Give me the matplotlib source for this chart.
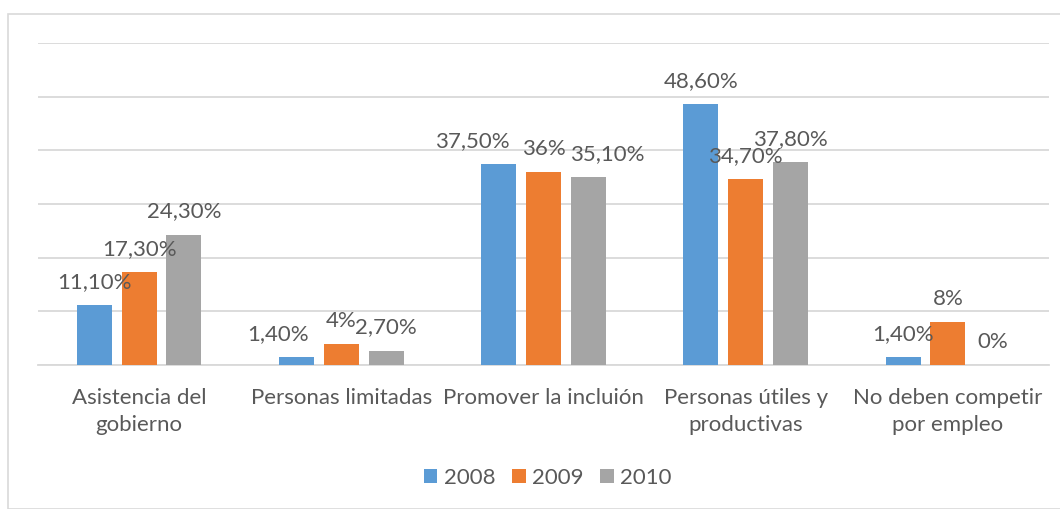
import matplotlib
matplotlib.use("Agg")
import matplotlib.pyplot as plt
from matplotlib.patches import Rectangle
import numpy as np

categories = [
    "Asistencia del\ngobierno",
    "Personas limitadas",
    "Promover la incluión",
    "Personas útiles y\nproductivas",
    "No deben competir\npor empleo",
]
years = ["2008", "2009", "2010"]
values_2008 = [11.1, 1.4, 37.5, 48.6, 1.4]
values_2009 = [17.3, 4.0, 36.0, 34.7, 8.0]
values_2010 = [24.3, 2.7, 35.1, 37.8, 0.0]
labels_2008 = ["11,10%", "1,40%", "37,50%", "48,60%", "1,40%"]
labels_2009 = ["17,30%", "4%", "36%", "34,70%", "8%"]
labels_2010 = ["24,30%", "2,70%", "35,10%", "37,80%", "0%"]

colors = ["#5B9BD5", "#ED7D31", "#A5A5A5"]
text_color = "#595959"
grid_color = "#D9D9D9"
fs = 16

# horizontal nudges (pixels) for labels that would collide, as in the original
label_shift = {(0, 1): -18, (0, 2): -26, (2, 2): 19}

plt.rcParams["font.family"] = ["Lato", "DejaVu Sans"]

fig = plt.figure(figsize=(10.6, 5.09), dpi=100)
W, H = 1060, 509

# chart border
fig.patches.append(Rectangle((8 / W, 0), 1.1, 1 - 14 / H, transform=fig.transFigure,
                             fill=False, edgecolor=grid_color, linewidth=1.2))

ax = fig.add_axes([38 / W, 1 - 365 / H, (1049 - 38) / W, (365 - 43) / H])

x = np.arange(len(categories))
bar_w = 0.173
step = 0.222
series = [
    (values_2008, labels_2008),
    (values_2009, labels_2009),
    (values_2010, labels_2010),
]
for i, (vals, labs) in enumerate(series):
    pos = x + (i - 1) * step
    ax.bar(pos, vals, width=bar_w, color=colors[i], label=years[i], zorder=3)
    for j, (px, v, lab) in enumerate(zip(pos, vals, labs)):
        dx = label_shift.get((i, j), 0)
        ax.annotate(lab, (px, v), xytext=(dx, 23), textcoords="offset pixels",
                    ha="center", va="center", fontsize=fs, color=text_color, zorder=4)

ax.set_xlim(-0.5, len(categories) - 0.5)
ax.set_ylim(0, 60)
ax.set_yticks(np.arange(0, 61, 10))
ax.yaxis.grid(True, color=grid_color, linewidth=1.3, zorder=0)
ax.tick_params(axis="y", left=False, labelleft=False)
ax.tick_params(axis="x", bottom=False, pad=13)
ax.set_xticks(x)
ax.set_xticklabels(categories, fontsize=fs, color=text_color, linespacing=1.45)
for side in ["top", "left", "right"]:
    ax.spines[side].set_visible(False)
ax.spines["bottom"].set_color(grid_color)
ax.spines["bottom"].set_linewidth(1.3)

leg = fig.legend(loc="center", bbox_to_anchor=(548 / W, 1 - 478 / H), ncol=3,
                 frameon=False, fontsize=fs, handlelength=0.6, handleheight=0.6,
                 handletextpad=0.3, columnspacing=0.75)
for t in leg.get_texts():
    t.set_color(text_color)

fig.savefig("out.png", dpi=100)
